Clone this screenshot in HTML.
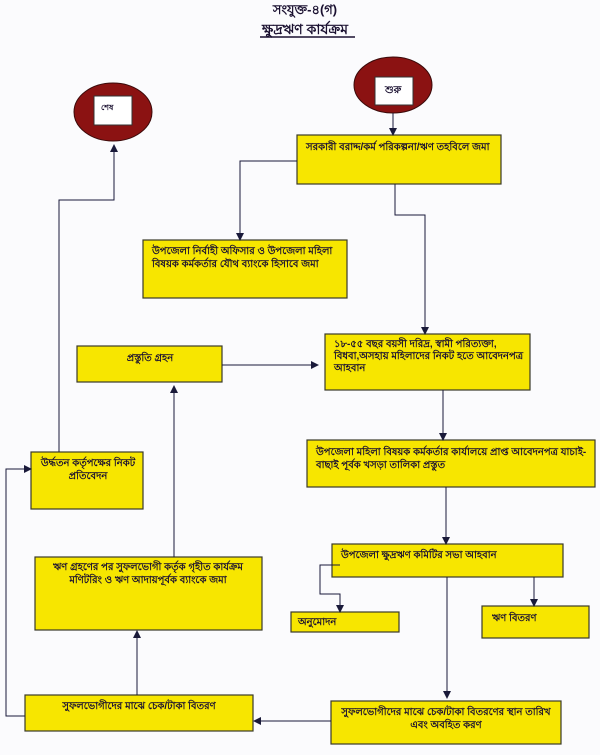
<!DOCTYPE html>
<html><head><meta charset="utf-8"><style>
html,body{margin:0;padding:0;background:#fbfbfd;}
svg text{font-family:"Liberation Sans","Noto Sans CJK SC",sans-serif;font-size:10px;fill:#1a1030;font-weight:bold;}
</style></head><body>
<svg width="600" height="750" viewBox="0 0 600 750" xmlns="http://www.w3.org/2000/svg">
<defs><marker id="a" markerWidth="8" markerHeight="8" refX="7" refY="4" orient="auto" markerUnits="userSpaceOnUse"><path d="M0,0 L8,4 L0,8 z" fill="#1a1a3a"/></marker></defs>
<rect width="600" height="750" fill="#fbfbfd"/>
<text x="305" y="14" text-anchor="middle" style="font-size:13px">সংযুক্ত-৪(গ)</text>
<text x="305" y="34" text-anchor="middle" style="font-size:14px">ক্ষুদ্রঋণ কার্যক্রম</text>
<line x1="260" y1="37" x2="355" y2="37" stroke="#1a1030" stroke-width="1.5"/>
<g fill="#8b1212" stroke="#3a0a0a"><ellipse cx="393" cy="85" rx="39" ry="28"/><ellipse cx="113" cy="112" rx="39" ry="29"/></g>
<rect x="375" y="77" width="38" height="28" fill="#fff" stroke="#333"/>
<rect x="94" y="96" width="38" height="29" fill="#fff" stroke="#333"/>
<text x="385" y="93">শুরু</text><text x="101" y="110" style="font-size:8px">শেষ</text>
<g fill="#f7e600" stroke="#3a3a2a" stroke-width="1.2">
<rect x="297" y="135" width="204" height="49"/>
<rect x="143" y="240" width="204" height="58"/>
<rect x="325" y="334" width="205" height="56"/>
<rect x="77" y="346" width="145" height="36"/>
<rect x="307" y="440" width="288" height="47"/>
<rect x="31" y="452" width="112" height="57"/>
<rect x="332" y="544" width="231" height="33"/>
<rect x="35" y="557" width="227" height="73"/>
<rect x="291" y="612" width="108" height="20"/>
<rect x="482" y="606" width="107" height="32"/>
<rect x="331" y="701" width="230" height="43"/>
<rect x="25" y="695" width="228" height="36"/>
</g>
<g fill="none" stroke="#1a1a3a" stroke-width="1" marker-end="url(#a)">
<path d="M393,113 V135"/>
<path d="M297,161 H240 V240"/>
<path d="M395,184 V215 H425 V334"/>
<path d="M222,365 H318"/>
<path d="M443,390 V440"/>
<path d="M59,452 V200 H114 V145"/>
<path d="M446,487 V544"/>
<path d="M174,557 V386"/>
<path d="M340,565 H320 V594 H340 V612"/>
<path d="M534,577 V606"/>
<path d="M447,577 V698"/>
<path d="M331,721 H254"/>
<path d="M137,695 V631"/>
<path d="M25,716 H6 V469 H31"/>
</g>
<text x="306" y="150">সরকারী বরাদ্দ/কর্ম পরিকল্পনা/ঋণ তহবিলে জমা</text>
<text x="152" y="254">উপজেলা নির্বাহী অফিসার ও উপজেলা মহিলা</text>
<text x="152" y="267">বিষয়ক কর্মকর্তার যৌথ ব্যাংকে হিসাবে জমা</text>
<text x="334" y="347">১৮-৫৫ বছর বয়সী দরিদ্র, স্বামী পরিত্যক্তা,</text>
<text x="334" y="359">বিধবা,অসহায় মহিলাদের নিকট হতে আবেদনপত্র</text>
<text x="334" y="371">আহবান</text>
<text x="150" y="361" text-anchor="middle">প্রস্তুতি গ্রহন</text>
<text x="316" y="455">উপজেলা মহিলা বিষয়ক কর্মকর্তার কার্যালয়ে প্রাপ্ত আবেদনপত্র যাচাই-</text>
<text x="316" y="468">বাছাই পূর্বক খসড়া তালিকা প্রস্তুত</text>
<text x="88" y="466" text-anchor="middle" x-dummy="">উর্দ্ধতন কর্তৃপক্ষের নিকট</text>
<text x="88" y="479" text-anchor="middle">প্রতিবেদন</text>
<text x="341" y="558">উপজেলা ক্ষুদ্রঋণ কমিটির সভা আহবান</text>
<text x="148" y="570" text-anchor="middle">ঋণ গ্রহণের পর সুফলভোগী কর্তৃক গৃহীত কার্যক্রম</text>
<text x="148" y="583" text-anchor="middle">মণিটরিং ও ঋণ আদায়পূর্বক ব্যাংকে জমা</text>
<text x="298" y="625">অনুমোদন</text>
<text x="492" y="621">ঋণ বিতরণ</text>
<text x="446" y="715" text-anchor="middle">সুফলভোগীদের মাঝে চেক/টাকা বিতরণের স্থান তারিখ</text>
<text x="446" y="728" text-anchor="middle">এবং অবহিত করণ</text>
<text x="139" y="709" text-anchor="middle">সুফলভোগীদের মাঝে চেক/টাকা বিতরণ</text>
</svg>
</body></html>
